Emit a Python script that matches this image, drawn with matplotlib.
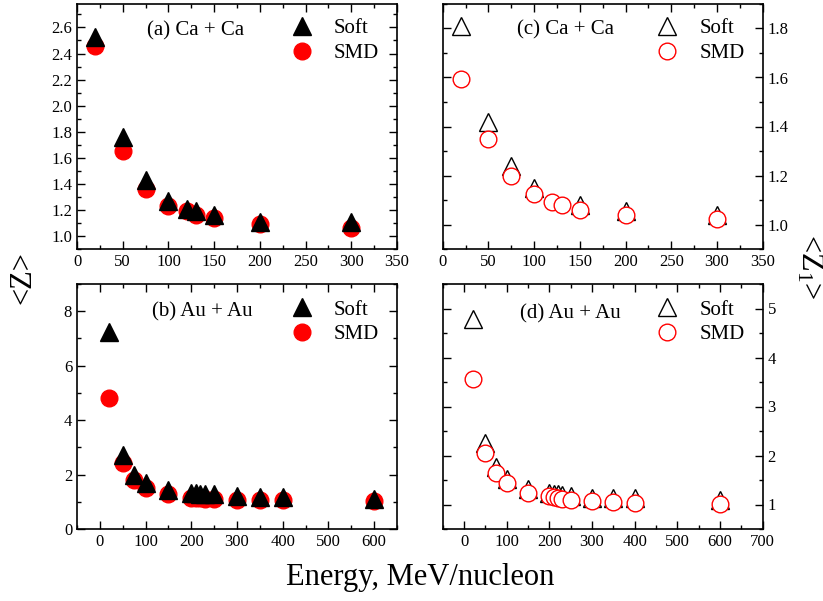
import numpy as np
import matplotlib
matplotlib.use("Agg")
import matplotlib.pyplot as plt
from matplotlib.ticker import MultipleLocator, FormatStrFormatter

plt.rcParams['font.family'] = ['Liberation Serif', 'DejaVu Serif']
plt.rcParams['mathtext.fontset'] = 'custom'
plt.rcParams['mathtext.rm'] = 'Liberation Serif'
plt.rcParams['mathtext.it'] = 'Liberation Serif:italic'

# (a) Ca + Ca, <Z>
ca_e_soft = [20, 50, 75, 100, 120, 130, 150, 200, 300]
ca_z_soft = [2.53, 1.76, 1.43, 1.27, 1.21, 1.19, 1.16, 1.11, 1.11]
ca_e_smd = [20, 50, 75, 100, 120, 130, 150, 200, 300]
ca_z_smd = [2.46, 1.655, 1.36, 1.23, 1.19, 1.16, 1.14, 1.09, 1.06]

# (c) Ca + Ca, <Z1>
ca_e_soft1 = [20, 50, 75, 100, 150, 200, 300]
ca_z1_soft = [1.81, 1.418, 1.239, 1.149, 1.079, 1.057, 1.04]
ca_e_smd1 = [20, 50, 75, 100, 120, 130, 150, 200, 300]
ca_z1_smd = [1.593, 1.347, 1.197, 1.123, 1.092, 1.078, 1.06, 1.037, 1.021]

# (b) Au + Au, <Z>
au_e = [20, 50, 75, 100, 150, 200, 210, 220, 230, 250, 300, 350, 400, 600]
au_z_soft = [7.22, 2.73, 1.99, 1.68, 1.45, 1.31, 1.31, 1.30, 1.30, 1.27, 1.21, 1.17, 1.17, 1.11]
au_z_smd = [4.82, 2.43, 1.80, 1.49, 1.27, 1.15, 1.14, 1.13, 1.12, 1.10, 1.06, 1.06, 1.06, 1.03]

# (d) Au + Au, <Z1>
au_z1_soft = [4.79, 2.25, 1.76, 1.53, 1.32, 1.23, 1.22, 1.21, 1.20, 1.18, 1.14, 1.14, 1.14, 1.09]
au_z1_smd = [3.56, 2.06, 1.65, 1.43, 1.24, 1.17, 1.15, 1.14, 1.12, 1.10, 1.075, 1.05, 1.04, 1.02]

W, H = 823, 601
fig = plt.figure(figsize=(W / 100, H / 100), dpi=100)

def box(x0, y0, x1, y1):
    return [x0 / W, 1 - y1 / H, (x1 - x0) / W, (y1 - y0) / H]

ax_a = fig.add_axes(box(77, 4, 397, 249))
ax_c = fig.add_axes(box(442.7, 4, 762.7, 249))
ax_b = fig.add_axes(box(77, 284, 397, 529))
ax_d = fig.add_axes(box(442.7, 284, 762.7, 529))

def style(ax, right=False):
    ax.tick_params(which='both', direction='in', top=True, right=True,
                   labelsize=12, width=1.0)
    ax.tick_params(which='major', length=6)
    ax.tick_params(which='minor', length=3)
    if right:
        ax.tick_params(labelleft=False, labelright=True)
    for s in ax.spines.values():
        s.set_linewidth(1.2)

# filled panels
ax_a.plot(ca_e_smd, ca_z_smd, 'o', color='red', ms=12, mec='red', label='SMD', zorder=2)
ax_a.plot(ca_e_soft, ca_z_soft, '^', color='black', ms=13, label='Soft', zorder=3)
ax_b.plot(au_e, au_z_smd, 'o', color='red', ms=12, mec='red', label='SMD', zorder=2)
ax_b.plot(au_e, au_z_soft, '^', color='black', ms=13, label='Soft', zorder=3)

# open panels
ax_c.plot(ca_e_soft1, ca_z1_soft, '^', mfc='white', mec='black', mew=1.0, ms=13, label='Soft', zorder=2)
ax_c.plot(ca_e_smd1, ca_z1_smd, 'o', mfc='white', mec='red', mew=1.0, ms=12, label='SMD', zorder=3)
ax_d.plot(au_e, au_z1_soft, '^', mfc='white', mec='black', mew=1.0, ms=13, label='Soft', zorder=2)
ax_d.plot(au_e, au_z1_smd, 'o', mfc='white', mec='red', mew=1.0, ms=12, label='SMD', zorder=3)

ax_a.set_xlim(0, 350); ax_a.set_ylim(0.9, 2.78)
ax_a.xaxis.set_major_locator(MultipleLocator(50)); ax_a.xaxis.set_minor_locator(MultipleLocator(25))
ax_a.yaxis.set_major_locator(MultipleLocator(0.2)); ax_a.yaxis.set_minor_locator(MultipleLocator(0.1))
ax_a.yaxis.set_major_formatter(FormatStrFormatter('%.1f'))

ax_c.set_xlim(0, 350); ax_c.set_ylim(0.9, 1.9)
ax_c.xaxis.set_major_locator(MultipleLocator(50)); ax_c.xaxis.set_minor_locator(MultipleLocator(25))
ax_c.yaxis.set_major_locator(MultipleLocator(0.2)); ax_c.yaxis.set_minor_locator(MultipleLocator(0.1))
ax_c.yaxis.set_major_formatter(FormatStrFormatter('%.1f'))

ax_b.set_xlim(-50, 650); ax_b.set_ylim(0, 9)
ax_b.xaxis.set_major_locator(MultipleLocator(100)); ax_b.xaxis.set_minor_locator(MultipleLocator(50))
ax_b.yaxis.set_major_locator(MultipleLocator(2)); ax_b.yaxis.set_minor_locator(MultipleLocator(1))

ax_d.set_xlim(-50, 700); ax_d.set_ylim(0.5, 5.5)
ax_d.xaxis.set_major_locator(MultipleLocator(100)); ax_d.xaxis.set_minor_locator(MultipleLocator(50))
ax_d.yaxis.set_major_locator(MultipleLocator(1)); ax_d.yaxis.set_minor_locator(MultipleLocator(0.5))

for ax in (ax_a, ax_b):
    style(ax)
for ax in (ax_c, ax_d):
    style(ax, right=True)

labels = [(ax_a, '(a) Ca + Ca', 0.372, 0.89), (ax_c, '(c) Ca + Ca', 0.385, 0.894),
          (ax_b, '(b) Au + Au', 0.391, 0.887), (ax_d, '(d) Au + Au', 0.40, 0.88)]
for ax, t, x, y in labels:
    ax.text(x, y, t, transform=ax.transAxes, ha='center', va='center', fontsize=15)

for ax, y in ((ax_a, 0.94), (ax_c, 0.94), (ax_b, 0.935), (ax_d, 0.935)):
    h, l = ax.get_legend_handles_labels()
    order = [l.index('Soft'), l.index('SMD')]
    ax.legend([h[i] for i in order], [l[i] for i in order], loc='upper left',
              bbox_to_anchor=(0.66, y), frameon=False, fontsize=15,
              handlelength=1.3, handletextpad=0.9, labelspacing=0.25,
              borderpad=0, borderaxespad=0)

fig.text(420 / W, 1 - 578 / H, 'Energy, MeV/nucleon', ha='center', va='center', fontsize=22)
fig.text(23 / W, 1 - 278 / H, '<Z>', rotation=90, ha='center', va='center', fontsize=22)
fig.text(809 / W, 1 - 267 / H, '<Z$_1$>', rotation=270, ha='center', va='center', fontsize=22)

fig.savefig('out.png', dpi=100)
